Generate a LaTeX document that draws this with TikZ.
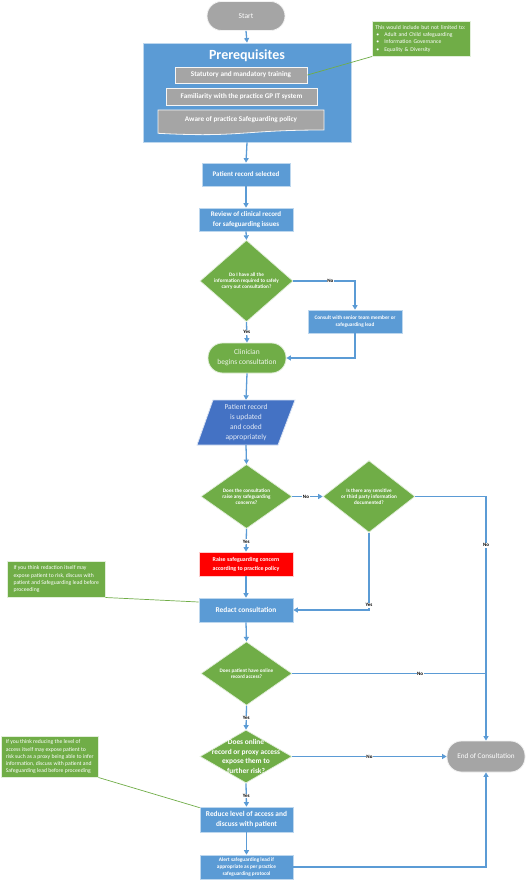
\documentclass[tikz,border=0pt]{standalone}
\usepackage{fontspec}
\setmainfont{Carlito}
\usetikzlibrary{shapes.geometric,arrows.meta,calc}
\definecolor{boxblue}{HTML}{5B9BD5}
\definecolor{darkblue}{HTML}{4472C4}
\definecolor{ogreen}{HTML}{70AD47}
\definecolor{ogrey}{HTML}{A5A5A5}
\definecolor{ored}{HTML}{FF0000}
\definecolor{linecol}{HTML}{5B9BD5}
\definecolor{edgecol}{HTML}{BDD7EE}
\begin{document}
\begin{tikzpicture}[x=1pt,y=-1pt,
  fs/.style n args={2}{font=\fontsize{#1}{#2}\selectfont},
  bx/.style={rectangle, fill=boxblue, draw=edgecol, line width=0.7pt, text=white, align=center, inner sep=1pt},
  greybox/.style={rectangle, fill=ogrey, draw=white!90!ogrey, line width=0.8pt, text=white, align=center, inner sep=1pt},
  pill/.style={rectangle, rounded corners=14.5pt, fill=ogrey, draw=white!85!ogrey, line width=0.8pt, text=white, align=center, inner sep=1pt},
  dia/.style={diamond, fill=ogreen, draw=white!80!ogreen, line width=0.7pt, text=white, align=center, inner sep=0pt, font=\bfseries\fontsize{5.2}{6.2}\selectfont},
  note/.style={rectangle, fill=ogreen, draw=white!80!ogreen, line width=0.5pt, text=white, align=left, inner sep=2.5pt, anchor=north west, font=\fontsize{5.7}{7.2}\selectfont},
  arr/.style={draw=linecol, line width=1.3pt, -{Triangle[length=4.5pt,width=5pt]}},
  ln/.style={draw=linecol, line width=1.3pt},
  gln/.style={draw=ogreen, line width=0.7pt},
  lbl/.style={fill=white, inner sep=0.6pt, text=black, font=\bfseries\fontsize{5}{5}\selectfont}]
\useasboundingbox (0,0) rectangle (528,882);
\fill[white] (0,0) rectangle (528,882);

% start
\node[pill, minimum width=78pt, minimum height=29pt, fs={7.5}{9}] (start) at (246,16) {Start};

% prerequisites
\node[rectangle, fill=boxblue, draw=edgecol, line width=0.8pt, minimum width=208pt, minimum height=99pt] (prereq) at (247,92.5) {};
\node[text=white, font=\bfseries\fontsize{14}{16}\selectfont] (pretitle) at (247,55.5) {Prerequisites};
\node[greybox, minimum width=132pt, minimum height=16pt, font=\bfseries\fontsize{7.2}{9}\selectfont] (pre1) at (241,75) {Statutory and mandatory training};
\node[greybox, minimum width=151pt, minimum height=17pt, font=\bfseries\fontsize{7.1}{9}\selectfont] (pre2) at (241.5,96.5) {Familiarity with the practice GP IT system};
\filldraw[fill=ogrey, draw=white!90!ogrey, line width=0.8pt] (158,110) -- (324,110) -- (324,130) .. controls (241,130) and (241,137.7) .. (158,133.3) -- cycle;
\node[text=white, font=\bfseries\fontsize{7.2}{9}\selectfont] (pre3) at (241,119.5) {Aware of practice Safeguarding policy};

% note 1
\node[note, minimum width=98pt, minimum height=35pt, text width=92pt] (note1) at (372,21) {This would include but not limited to:\\
\hspace*{1pt}\makebox[8pt][l]{\textbullet}Adult and Child safeguarding\\
\hspace*{1pt}\makebox[8pt][l]{\textbullet}Information Governance\\
\hspace*{1pt}\makebox[8pt][l]{\textbullet}Equality \& Diversity};
\draw[gln] (note1.south west) -- (pre1.east);

% main flow
\node[bx, minimum width=88pt, minimum height=23pt, font=\bfseries\fontsize{7}{10}\selectfont] (sel) at (246,174.5) {Patient record selected};
\node[bx, minimum width=94pt, minimum height=23pt, font=\bfseries\fontsize{7}{10}\selectfont] (rev) at (246,219.5) {Review of clinical record\\for safeguarding issues};
\node[dia, minimum width=93pt, minimum height=54pt] (d1) at (246.5,281) {Do I have all the\\information required to safely\\carry out consultation?};
\node[bx, minimum width=94pt, minimum height=23pt, font=\bfseries\fontsize{5.3}{7}\selectfont] (consult) at (355,321.5) {Consult with senior team member or\\safeguarding lead};
\node[pill, fill=ogreen, draw=white!80!ogreen, minimum width=78pt, minimum height=30pt, font=\fontsize{7.5}{10}\selectfont, text=white!88!ogreen] (clin) at (247,358) {Clinician\\begins consultation};

\filldraw[fill=darkblue, draw=white!80!darkblue, line width=0.8pt] (213,400) -- (295,400) -- (278,445) -- (197,445) -- cycle;
\node[rectangle, minimum width=82pt, minimum height=45pt, inner sep=0pt, align=center, text=white!85!darkblue, font=\fontsize{7.5}{10}\selectfont] (para) at (246,422.5) {Patient record\\is updated\\and coded\\appropriately};

\node[dia, minimum width=91pt, minimum height=55pt] (d2) at (246.5,496.5) {Does the consultation\\raise any safeguarding\\concerns?};
\node[dia, minimum width=92pt, minimum height=55pt] (d3) at (369,496.5) {Is there any sensitive\\or third party information\\documented?};
\node[bx, fill=ored, draw=white!80!ored, minimum width=94pt, minimum height=24pt, font=\bfseries\fontsize{5.9}{9}\selectfont] (raise) at (246,564) {Raise safeguarding concern\\according to practice policy};
\node[bx, minimum width=94pt, minimum height=24pt, font=\bfseries\fontsize{7.4}{10}\selectfont] (redact) at (246,610) {Redact consultation};

\node[note, minimum width=98pt, minimum height=36pt] (note2) at (7,561) {If you think redaction itself may\\expose patient to risk, discuss with\\patient and Safeguarding lead before\\proceeding};
\draw[gln] (note2.south east) -- ([yshift=8pt]redact.west);

\node[dia, minimum width=91pt, minimum height=55pt] (d4) at (246.5,673.5) {Does patient have online\\record access?};
\node[dia, minimum width=92pt, minimum height=53pt] (d5) at (246,756.5) {};
\node[align=center, text=white, font=\bfseries\fontsize{7.4}{9.6}\selectfont, inner sep=0pt] (d5t) at (d5) {Does online\\record or proxy access\\expose them to\\further risk?};

\node[pill, minimum width=78pt, minimum height=31pt, font=\fontsize{7.2}{9}\selectfont] (endc) at (486,756.5) {End of Consultation};
\node[bx, minimum width=93pt, minimum height=25pt, font=\bfseries\fontsize{7.4}{10}\selectfont] (reduce) at (246.5,819.5) {Reduce level of access and\\discuss with patient};
\node[bx, minimum width=93pt, minimum height=24pt, font=\bfseries\fontsize{5.3}{7}\selectfont] (alert) at (246.5,867) {Alert safeguarding lead if\\appropriate as per practice\\safeguarding protocol};

\node[note, minimum width=97pt, minimum height=41pt] (note3) at (1,736) {If you think reducing the level of\\access itself may expose patient to\\risk such as a proxy being able to infer\\information, discuss with patient and\\Safeguarding lead before proceeding};
\draw[gln] (note3.south east) -- ([yshift=-1pt]reduce.north west);

% connectors
\draw[arr] (start.south) -- (prereq.north);
\draw[arr] (prereq.south) -- (sel.north);
\draw[arr] (sel.south) -- (rev.north);
\draw[arr] (rev.south) -- (d1.north);
\draw[arr] (d1.south) -- node[lbl, pos=0.5]{Yes} (clin.north);
\draw[arr] (d1.east) -| node[lbl, pos=0.3]{No} (consult.north);
\draw[arr] (consult.south) |- (clin.east);
\draw[arr] (clin.south) -- (para.north);
\draw[arr] (para.south) -- (d2.north);
\draw[arr] (d2.east) -- node[lbl, pos=0.45]{No} (d3.west);
\draw[arr] (d2.south) -- node[lbl, pos=0.55]{Yes} (raise.north);
\draw[arr] (raise.south) -- (redact.north);
\draw[arr] (d3.south) |- node[lbl, pos=0.47]{Yes} (redact.east);
\draw[arr] (d3.east) -| node[lbl, pos=0.6]{No} (endc.north);
\draw[arr] (redact.south) -- (d4.north);
\draw[ln] (d4.east) -- node[lbl, pos=0.66]{No} (d4.east -| endc.north);
\draw[arr] (d4.south) -- node[lbl, pos=0.52]{Yes} (d5.north);
\draw[arr] (d5.east) -- node[lbl, pos=0.5]{No} (endc.west);
\draw[arr] (d5.south) -- node[lbl, pos=0.55]{Yes} (reduce.north);
\draw[arr] (reduce.south) -- (alert.north);
\draw[arr] (alert.east) -| (endc.south);
\end{tikzpicture}
\end{document}
